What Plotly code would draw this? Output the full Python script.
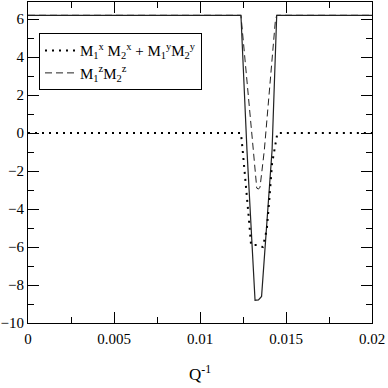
import plotly.graph_objects as go

# total (solid)
total_x = [0, 0.01238, 0.01273, 0.01320, 0.01340, 0.01358, 0.01419, 0.01446, 0.02]
total_y = [6.2, 6.2, -0.9, -8.8, -8.78, -8.6, -0.9, 6.2, 6.2]

# M1^x M2^x + M1^y M2^y (dotted)
xy_x = [0, 0.01238, 0.01248, 0.01263, 0.01283, 0.01297, 0.01330, 0.01365, 0.01388, 0.01403, 0.01419, 0.01450, 0.02]
xy_y = [0, 0, -0.9, -2.6, -4.4, -5.9, -5.9, -6.0, -5.1, -3.5, -1.6, 0, 0]

# M1^z M2^z (dashed)
z_x = [0, 0.01238, 0.01310, 0.01322, 0.01330, 0.01340, 0.01349, 0.01360, 0.01374, 0.01438, 0.01446, 0.02]
z_y = [6.2, 6.2, -0.9, -2.4, -2.9, -2.95, -2.85, -2.0, -0.9, 5.9, 6.2, 6.2]

x_ticks = [0, 0.005, 0.01, 0.015, 0.02]
x_ticklabels = ["0", "0.005", "0.01", "0.015", "0.02"]
y_ticks = [-10, -8, -6, -4, -2, 0, 2, 4, 6]

serif = "Liberation Serif, Times New Roman, serif"

fig = go.Figure()

fig.add_trace(go.Scatter(
    x=total_x, y=total_y, mode="lines", showlegend=False,
    line=dict(color="#222222", width=1.2),
))
fig.add_trace(go.Scatter(
    x=xy_x, y=xy_y, mode="lines",
    name="M<sub>1</sub><sup>x</sup> M<sub>2</sub><sup>x</sup> + M<sub>1</sub><sup>y</sup>M<sub>2</sub><sup>y</sup>",
    line=dict(color="black", width=2, dash="2px,5px"),
))
fig.add_trace(go.Scatter(
    x=z_x, y=z_y, mode="lines",
    name="M<sub>1</sub><sup>z</sup>M<sub>2</sub><sup>z</sup>",
    line=dict(color="#222222", width=1, dash="7px,4px"),
))

axis_common = dict(
    showline=True, linecolor="black", linewidth=1, mirror="allticks",
    ticks="inside", ticklen=11, tickcolor="black", tickwidth=1,
    showgrid=False, zeroline=False, automargin=False,
    tickfont=dict(family=serif, size=15, color="black"),
)

fig.update_layout(
    width=388, height=388,
    margin=dict(l=28, r=16, t=2, b=65),
    paper_bgcolor="white", plot_bgcolor="white",
    font=dict(family=serif, color="black"),
    showlegend=True,
    legend=dict(
        x=0.032, y=0.903, xanchor="left", yanchor="top",
        bordercolor="black", borderwidth=1, bgcolor="white",
        font=dict(family=serif, size=15, color="black"),
        itemwidth=30, tracegroupgap=0,
    ),
    xaxis=dict(
        range=[0, 0.02], tickvals=x_ticks, ticktext=x_ticklabels,
        minor=dict(ticks="inside", ticklen=6, dtick=0.0025, tickcolor="black"),
        ticklabelstandoff=2,
        title=dict(text="Q<sup>-1</sup>", font=dict(family=serif, size=17), standoff=22),
        **axis_common,
    ),
    yaxis=dict(
        range=[-10, 6.9], tickvals=y_ticks,
        minor=dict(ticks="inside", ticklen=6, dtick=1, tickcolor="black"),
        **axis_common,
    ),
)

# page has a default body margin; drop it so the figure sits at the window corner
fig.write_html(
    "out.html",
    config={"displayModeBar": False},
    post_script="document.body.style.margin='0px';",
)
